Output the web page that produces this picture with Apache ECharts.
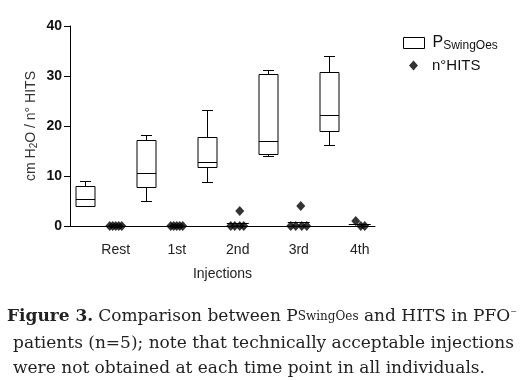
<!DOCTYPE html>
<html>
<head>
<meta charset="utf-8">
<script src="https://cdn.jsdelivr.net/npm/echarts@6/dist/echarts.min.js"></script>
<style>
html,body{margin:0;padding:0;background:#fff;}
#chart{width:524px;height:380px;}
</style>
</head>
<body>
<div id="chart"></div>
<script>
// ---- data ----
var categories = ['Rest', '1st', '2nd', '3rd', '4th'];
var boxMin    = [4.0, 5.0, 8.9, 14.0, 16.2];
var boxQ1     = [4.0, 7.9, 11.9, 14.4, 19.1];
var boxMedian = [5.4, 10.7, 12.9, 17.1, 22.3];
var boxQ3     = [8.1, 17.3, 17.9, 30.5, 30.9];
var boxMax    = [9.0, 18.3, 23.3, 31.1, 34.1];
var hitsRest = [0, 0, 0, 0, 0];
var hits1st  = [0, 0, 0, 0, 0];
var hits2nd  = [3, 0, 0, 0, 0];
var hits3rd  = [4, 0, 0, 0, 0];
var hits4th  = [1, 0, 0];
var yTicks = [0, 10, 20, 30, 40];

// ---- build ----
var hitsGroups = [hitsRest, hits1st, hits2nd, hits3rd, hits4th];
var slots = [];
categories.forEach(function (c) { slots.push(''); slots.push(c); });

// horizontal jitter (style only, pixels)
var jitter = [
  [-6, -3, 0, 3, 6],
  [-6, -3, 0, 3, 6],
  [2, -7, -3, 2, 6],
  [2, -8, -3, 3, 8],
  [-4, 1, 5]
];
var hitsData = [];
hitsGroups.forEach(function (g, gi) {
  g.forEach(function (v, k) {
    hitsData.push({ value: [2 * gi + 1, v], symbolOffset: [jitter[gi][k] || 0, 0] });
  });
});
var boxData = categories.map(function (c, i) {
  return [2 * i, boxMin[i], boxQ1[i], boxMedian[i], boxQ3[i], boxMax[i]];
});
var meanData = hitsGroups.map(function (g, gi) {
  var s = 0; g.forEach(function (v) { s += v; });
  return [2 * gi + 1, s / g.length];
});

var chart = echarts.init(document.getElementById('chart'), null, { renderer: 'canvas' });
var black = '#000';
var axisFont = 'Liberation Sans, Arial, sans-serif';
var capFont = 'DejaVu Serif, serif';
var capSize = 17;

chart.setOption({
  animation: false,
  backgroundColor: '#fff',
  grid: { left: 70, right: 149, top: 26, bottom: 154, containLabel: false },
  title: [
    { left: 2, top: 303, text: '{b|Figure 3.} {r|Comparison between P}{sm|SwingOes}{r| and HITS in PFO}{sup|⁻}',
      textStyle: { fontWeight: 'normal', rich: {
        b: { fontFamily: capFont, fontWeight: 'bold', fontSize: capSize, color: '#222' },
        r: { fontFamily: capFont, fontWeight: 'normal', fontSize: capSize, color: '#222' },
        sm: { fontFamily: capFont, fontWeight: 'normal', fontSize: 12, color: '#222' },
        sup: { fontFamily: capFont, fontWeight: 'normal', fontSize: 13, color: '#222', verticalAlign: 'top' }
      } } },
    { left: 8, top: 330, text: 'patients (n=5); note that technically acceptable injections',
      textStyle: { fontFamily: capFont, fontSize: capSize, fontWeight: 'normal', color: '#222' } },
    { left: 8, top: 355, text: 'were not obtained at each time point in all individuals.',
      textStyle: { fontFamily: capFont, fontSize: capSize, fontWeight: 'normal', color: '#222' } }
  ],
  legend: [
    { left: 398, top: 30, orient: 'vertical', itemWidth: 21, itemHeight: 11,
      data: [{ name: 'PSwingOes', icon: 'rect', itemStyle: { color: '#fff', borderColor: black, borderWidth: 1 } }],
      formatter: function () { return '{p|P}{s|SwingOes}'; },
      textStyle: { rich: {
        p: { fontFamily: axisFont, fontSize: 16, color: '#111', padding: [0, 0, 0, 3] },
        s: { fontFamily: axisFont, fontSize: 12, color: '#111', verticalAlign: 'bottom', padding: [6, 0, 0, 0] }
      } } },
    { left: 404, top: 53, itemWidth: 9, itemHeight: 10,
      data: [{ name: 'n°HITS', icon: 'diamond', itemStyle: { color: black } }],
      textStyle: { fontFamily: axisFont, fontSize: 15, color: '#111', padding: [0, 0, 0, 9] } }
  ],
  xAxis: {
    type: 'category', data: slots, boundaryGap: true,
    name: 'Injections', nameLocation: 'middle', nameGap: 41,
    nameTextStyle: { fontFamily: axisFont, fontSize: 14, color: '#222' },
    axisLine: { lineStyle: { color: black, width: 1 } },
    axisTick: { alignWithLabel: true, length: 5, interval: function (i) { return i % 2 === 0; }, lineStyle: { color: black } },
    axisLabel: { interval: function (i) { return i % 2 === 1; }, margin: 17, fontFamily: axisFont, fontSize: 14, color: '#222' },
    splitLine: { show: false }
  },
  yAxis: {
    type: 'value', min: yTicks[0], max: yTicks[yTicks.length - 1], interval: 10,
    name: '{a|cm H}{s|2}{a|O / n° HITS}', nameLocation: 'middle', nameGap: 31, nameRotate: 90,
    nameMoveOverlap: false,
    nameTextStyle: { rich: {
      a: { fontFamily: axisFont, fontSize: 14, color: '#333' },
      s: { fontFamily: axisFont, fontSize: 10, color: '#333', verticalAlign: 'bottom', padding: [6, 0, 0, 0] }
    } },
    axisLine: { show: true, lineStyle: { color: black, width: 1 } },
    axisTick: { show: true, length: 6, lineStyle: { color: black } },
    axisLabel: { margin: 8, fontFamily: axisFont, fontWeight: 'bold', fontSize: 14, color: '#111' },
    splitLine: { show: false }
  },
  series: [
    {
      name: 'PSwingOes', type: 'custom', data: boxData,
      encode: { x: 0, y: [1, 2, 3, 4, 5] },
      renderItem: function (params, api) {
        var x = api.value(0);
        var pMin = api.coord([x, api.value(1)]);
        var pQ1 = api.coord([x, api.value(2)]);
        var pMed = api.coord([x, api.value(3)]);
        var pQ3 = api.coord([x, api.value(4)]);
        var pMax = api.coord([x, api.value(5)]);
        var cx = Math.round(pMin[0]) + 0.5;
        var hw = 9.5, cw = 5.5;
        var st = { stroke: black, lineWidth: 1, fill: null };
        return { type: 'group', children: [
          { type: 'rect', shape: { x: cx - hw, y: Math.round(pQ3[1]) + 0.5, width: 2 * hw, height: Math.round(pQ1[1]) - Math.round(pQ3[1]) }, style: { stroke: black, lineWidth: 1, fill: '#fff' } },
          { type: 'line', shape: { x1: cx - hw, y1: Math.round(pMed[1]) + 0.5, x2: cx + hw, y2: Math.round(pMed[1]) + 0.5 }, style: st },
          { type: 'line', shape: { x1: cx, y1: Math.round(pQ3[1]) + 0.5, x2: cx, y2: Math.round(pMax[1]) + 0.5 }, style: st },
          { type: 'line', shape: { x1: cx, y1: Math.round(pQ1[1]) + 0.5, x2: cx, y2: Math.round(pMin[1]) + 0.5 }, style: st },
          { type: 'line', shape: { x1: cx - cw, y1: Math.round(pMax[1]) + 0.5, x2: cx + cw, y2: Math.round(pMax[1]) + 0.5 }, style: st },
          { type: 'line', shape: { x1: cx - cw, y1: Math.round(pMin[1]) + 0.5, x2: cx + cw, y2: Math.round(pMin[1]) + 0.5 }, style: st }
        ] };
      }
    },
    {
      name: 'mean', type: 'custom', data: meanData, silent: true,
      renderItem: function (params, api) {
        var p = api.coord([api.value(0), api.value(1)]);
        var y = Math.round(p[1]) + 0.5;
        return { type: 'line', shape: { x1: p[0] - 11, y1: y, x2: p[0] + 11, y2: y }, style: { stroke: black, lineWidth: 1 } };
      }
    },
    {
      name: 'n°HITS', type: 'scatter', data: hitsData,
      symbol: 'diamond', symbolSize: [9, 10],
      itemStyle: { color: black }, z: 3
    }
  ]
});
</script>
</body>
</html>
